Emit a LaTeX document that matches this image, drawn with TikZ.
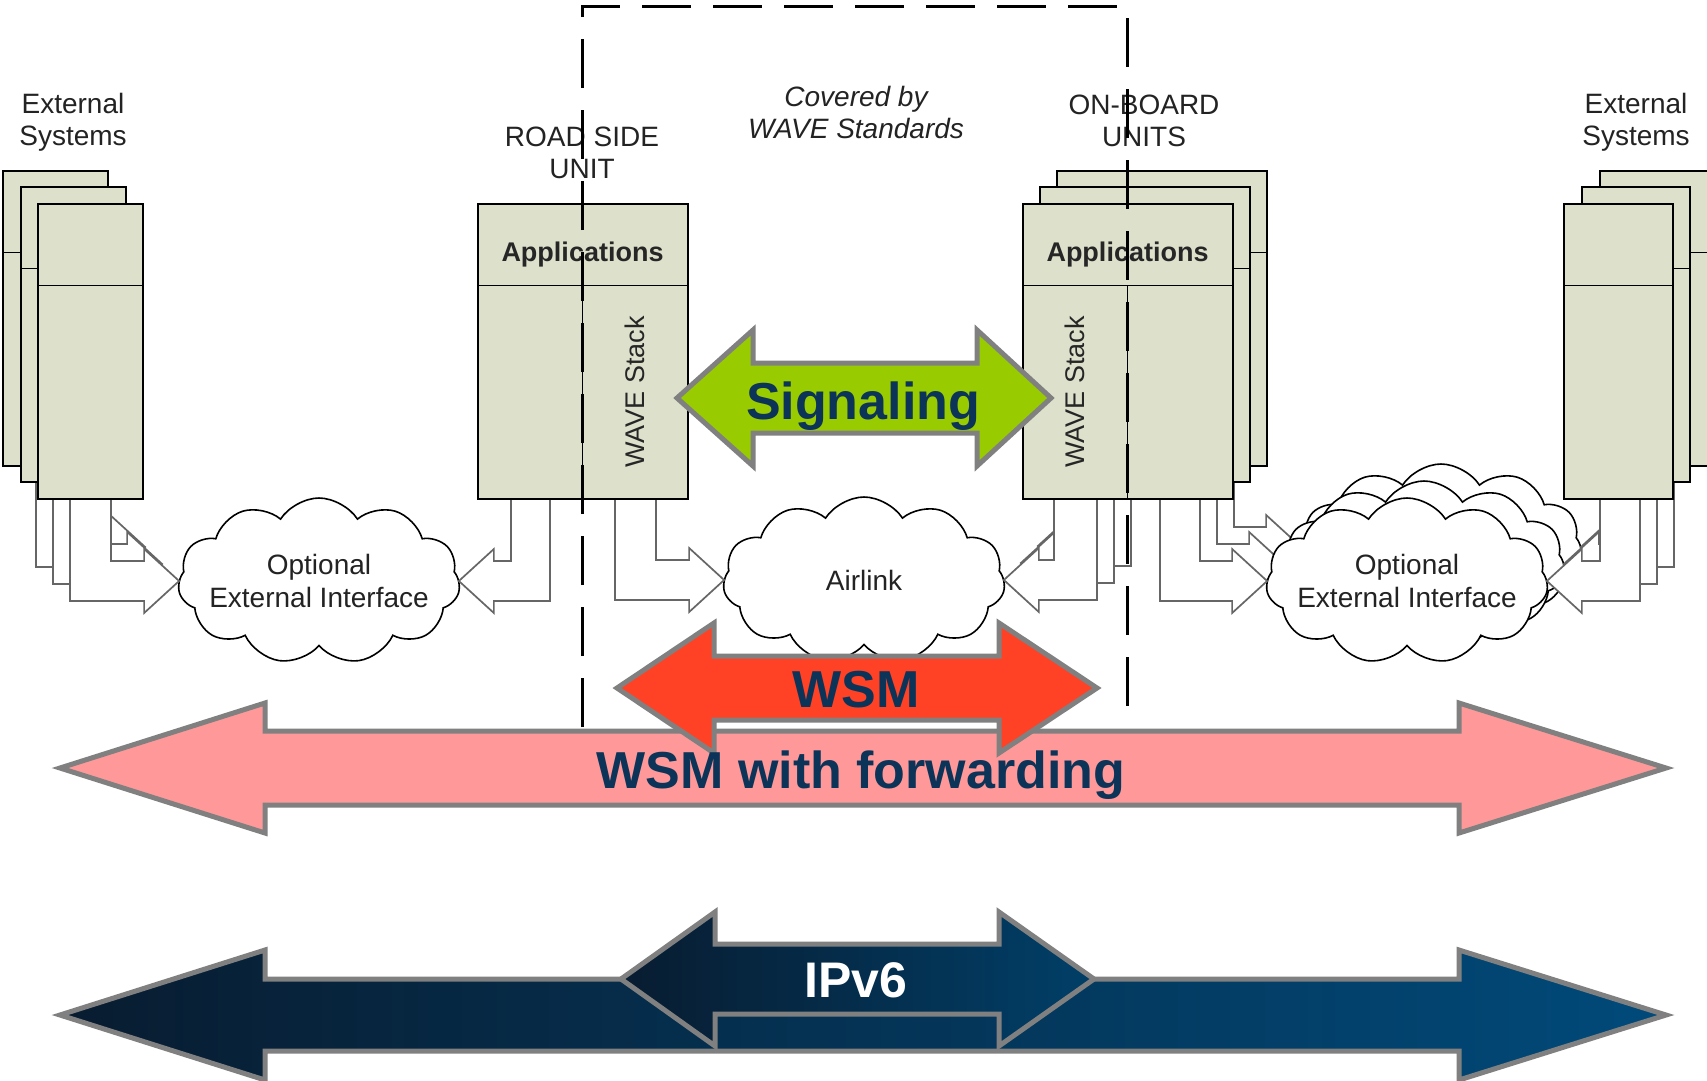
\documentclass[tikz,border=0pt]{standalone}
\usepackage{fontspec}
\setmainfont{Liberation Sans}
\usetikzlibrary{shapes.symbols,calc}
\definecolor{boxfill}{RGB}{221,224,203}
\definecolor{sig}{RGB}{153,204,0}
\definecolor{wsmred}{RGB}{255,66,38}
\definecolor{wsmpink}{RGB}{255,153,153}
\definecolor{navy}{RGB}{12,52,88}
\definecolor{ipl}{RGB}{8,28,48}
\definecolor{ipr}{RGB}{1,74,122}
\definecolor{bord}{RGB}{128,128,128}
\definecolor{txt}{RGB}{35,35,35}
\newcommand{\elbow}[4]{%
  \draw[blk] (#1) |- ($(#3)+(#4,20)$) -- ($(#3)+(#4,32)$) -- (#3)
    -- ($(#3)+(#4,-32)$) -- ($(#3)+(#4,-20)$) -| (#2) -- cycle;}
\newcommand{\unitbox}[4]{%
  \node[ubox, minimum width=#4, minimum height=295] (#1) at (#2,#3) {};
  \draw[div] ($(#1.north west)+(0,81)$) -- ($(#1.north east)+(0,81)$);}
\newcommand{\dblarrow}[8]{% style, ltip, lbase, rbase, rtip, cy, shaft, head
  \path[#1] (#2,#6) -- (#3,#6-#8) -- (#3,#6-#7) -- (#4,#6-#7) -- (#4,#6-#8) -- (#5,#6)
    -- (#4,#6+#8) -- (#4,#6+#7) -- (#3,#6+#7) -- (#3,#6+#8) -- cycle;}
\begin{document}
\begin{tikzpicture}[x=1pt,y=-1pt,
  ubox/.style={draw=black, line width=1.8, fill=boxfill, inner sep=0pt, outer sep=0pt, anchor=north west},
  div/.style={draw=black, line width=1},
  blk/.style={draw=black!60, line width=1.7, fill=white},
  cl/.style={cloud, cloud puffs=11, cloud puff arc=115, cloud ignores aspect, draw=black, line width=1.6,
    fill=white, minimum width=282, minimum height=166, inner sep=0pt, outer sep=0pt},
  cltxt/.style={align=center, text=txt, font=\fontsize{28}{33}\selectfont, inner sep=0pt},
  lbl/.style={align=center, text=txt, font=\fontsize{28}{32}\selectfont, inner sep=0pt},
  apptxt/.style={font=\bfseries\fontsize{27}{30}\selectfont, text=black!85, inner sep=0pt},
  stacktxt/.style={font=\fontsize{27}{30}\selectfont, text=black!85, rotate=90, inner sep=0pt},
  bigtxt/.style={font=\bfseries\fontsize{52}{56}\selectfont, text=navy, inner sep=0pt, anchor=base},
  bigarrow/.style={draw=bord, line width=5, line join=miter},
  wdash/.style={draw=black, line width=3, dash pattern=on 49pt off 22pt}
]
\useasboundingbox (0,0) rectangle (1707,1080);
\fill[white] (0,0) rectangle (1707,1080);

% clouds (single)
\node[cl] (air) at (864,580) {};
\node[cltxt] (airt) at (air.center) {Airlink};
\node[cl] (lcl) at (319,581) {};
\node[cltxt] (lclt) at (lcl.center) {Optional\\External Interface};

% tip coordinates
\coordinate (tle1) at (lcl.west);
\coordinate (tle2) at ($(lcl.west)+(-17,-17)$);
\coordinate (tle3) at ($(lcl.west)+(-34,-34)$);
\coordinate (toa1) at (air.east);
\coordinate (toa2) at ($(air.east)+(17,-17)$);
\coordinate (toa3) at ($(air.east)+(34,-34)$);

% ---- back layer
\node[cl] (rcl3) at (1441,547) {};
\elbow{36,464}{77,464}{tle3}{-35}
\elbow{1131,464}{1088,464}{toa3}{35}
\elbow{1194,464}{1234,464}{rcl3.west}{-35}
\elbow{1674,464}{1634,464}{rcl3.east}{35}
\unitbox{le3}{3}{171}{105}
\unitbox{ob3}{1057}{171}{210}
\unitbox{re3}{1600}{171}{108}

% ---- middle layer
\node[cl] (rcl2) at (1424,564) {};
\elbow{53,480}{94,480}{tle2}{-35}
\elbow{1114,480}{1071,480}{toa2}{35}
\elbow{1177,480}{1217,480}{rcl2.west}{-35}
\elbow{1657,480}{1617,480}{rcl2.east}{35}
\unitbox{le2}{21}{187}{105}
\unitbox{ob2}{1040}{187}{210}
\unitbox{re2}{1582}{187}{108}

% ---- front layer
\node[cl] (rcl1) at (1407,581) {};
\node[cltxt] (rclt) at (rcl1.center) {Optional\\External Interface};
\elbow{70,497}{111,497}{tle1}{-35}
\elbow{550,497}{511,497}{lcl.east}{35}
\elbow{615,497}{656,497}{air.west}{-35}
\elbow{1097,497}{1054,497}{toa1}{35}
\elbow{1160,497}{1200,497}{rcl1.west}{-35}
\elbow{1640,497}{1600,497}{rcl1.east}{35}
\unitbox{le1}{38}{204}{105}
\unitbox{rsu}{478}{204}{210}
\unitbox{ob1}{1023}{204}{210}
\unitbox{re1}{1564}{204}{109}
\draw[div] ($(rsu.north west)+(104.5,81)$) -- ($(rsu.south west)+(104.5,0)$);
\draw[div] ($(ob1.north west)+(104.5,81)$) -- ($(ob1.south west)+(104.5,0)$);

% box texts
\node[apptxt] (rsuapp) at (582.5,255) {Applications};
\node[apptxt] (obuapp) at (1127.5,255) {Applications};
\node[stacktxt] (rsustk) at (635,392) {WAVE Stack};
\node[stacktxt] (obustk) at (1075,392) {WAVE Stack};

% labels
\node[lbl] (lext) at (73,122) {External\\Systems};
\node[lbl] (rext) at (1636,122) {External\\Systems};
\node[lbl] (rsul) at (582,153) {ROAD SIDE\\UNIT};
\node[lbl] (obul) at (1144,121) {ON-BOARD\\UNITS};
\node[lbl, font=\itshape\fontsize{28}{32}\selectfont] (cov) at (856,112) {Covered by\\WAVE Standards};

% dashed WAVE box
\draw[wdash] (582,727) -- (582,6) -- (1127,6) -- (1127,727);

% big arrows
\dblarrow{bigarrow, fill=wsmpink}{60}{265}{1459}{1666}{768}{37}{65}
\dblarrow{bigarrow, fill=wsmred}{617}{714}{999}{1097}{688}{32}{65}
\dblarrow{bigarrow, fill=sig}{677}{753}{977}{1051}{398}{35}{68}
\dblarrow{bigarrow, left color=ipl, right color=ipr}{60}{265}{1459}{1666}{1015}{36}{65}
\dblarrow{bigarrow, left color=ipl, right color=ipr!85!black}{621}{715}{999}{1094}{979}{35}{67}

\node[bigtxt] (sigt) at (863,419) {Signaling};
\node[bigtxt] (wsmt) at (856,707) {WSM};
\node[bigtxt] (wsmf) at (861,788) {WSM with forwarding};
\node[bigtxt, text=white, font=\bfseries\fontsize{50}{54}\selectfont] (ipt) at (856,997) {IPv6};
\end{tikzpicture}
\end{document}
